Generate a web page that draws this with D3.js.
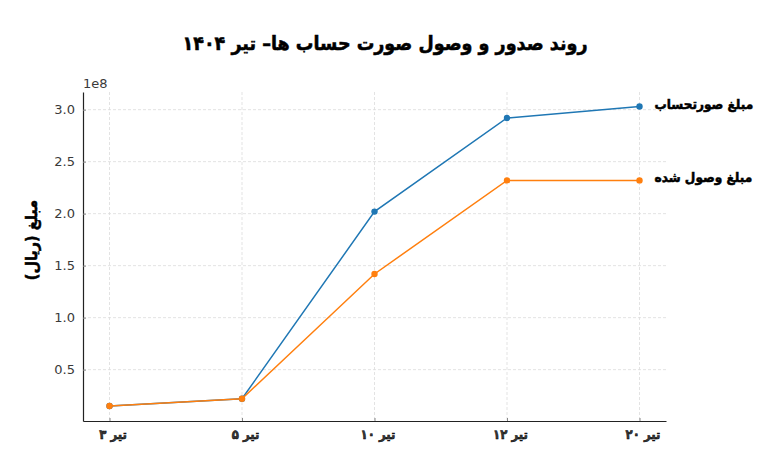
<!DOCTYPE html>
<html>
<head>
<meta charset="utf-8">
<script src="https://cdn.jsdelivr.net/npm/d3@7"></script>
<style>
  body { margin: 0; background: #fff; }
  svg text { font-family: "DejaVu Sans", sans-serif; }
  .grid line { stroke: #dcdcdc; stroke-dasharray: 3,2; stroke-width: 0.8; }
  .tick text { fill: #3a3a3a; font-size: 13px; }
  .fa { font-family: "DejaVu Sans Condensed", "DejaVu Sans", sans-serif; font-weight: bold; fill: #000; stroke: #000; stroke-width: 0.5; }
</style>
</head>
<body>
<svg id="chart" width="774" height="465"></svg>
<script>
// chart data
var categories = ["تیر ۳", "تیر ۵", "تیر ۱۰", "تیر ۱۲", "تیر ۲۰"];
var invoiced = [15000000, 22000000, 202000000, 292000000, 303000000];
var received = [15000000, 22000000, 142000000, 232000000, 232000000];
var yTicks = [0.5e8, 1.0e8, 1.5e8, 2.0e8, 2.5e8, 3.0e8];
var seriesNames = ["مبلغ صورتحساب", "مبلغ وصول شده"];
var titleText = "روند صدور و وصول صورت حساب ها– تیر ۱۴۰۴";
var yLabel = "مبلغ (ریال)";

var svg = d3.select("#chart");
var plotLeft = 83, plotRight = 666, plotTop = 92, plotBottom = 421;

var x = d3.scaleLinear().domain([-0.2, categories.length - 1 + 0.2]).range([plotLeft, plotRight]);
var y = d3.scaleLinear().domain([0.6e6, 3.17e8]).range([plotBottom, plotTop]);

// grid
var grid = svg.append("g").attr("class", "grid");
grid.selectAll(".gx").data(categories).enter().append("line")
	.attr("x1", function(d, i) { return x(i); })
	.attr("x2", function(d, i) { return x(i); })
	.attr("y1", plotTop).attr("y2", plotBottom);
grid.selectAll(".gy").data(yTicks).enter().append("line")
	.attr("x1", plotLeft).attr("x2", plotRight)
	.attr("y1", function(d) { return y(d); })
	.attr("y2", function(d) { return y(d); });

// y axis
var yAxis = svg.append("g")
	.attr("transform", "translate(" + plotLeft + ",0)")
	.call(d3.axisLeft(y).tickValues(yTicks).tickSizeInner(-3).tickSizeOuter(0).tickPadding(8)
		.tickFormat(function(d) { return (d / 1e8).toFixed(1); }));
yAxis.select(".domain").attr("stroke", "#222").attr("stroke-width", 1.2);
yAxis.selectAll(".tick line").attr("stroke", "#888");

svg.append("text").attr("x", plotLeft).attr("y", 88)
	.attr("fill", "#3a3a3a").attr("font-size", 13).text("1e8");

// x axis
var xAxis = svg.append("g")
	.attr("transform", "translate(0," + plotBottom + ")")
	.call(d3.axisBottom(x).tickValues(d3.range(categories.length)).tickSizeInner(-3).tickSizeOuter(0).tickPadding(9)
		.tickFormat(function(d) { return categories[d]; }));
xAxis.select(".domain").attr("stroke", "#222").attr("stroke-width", 1.2);
xAxis.selectAll(".tick line").attr("stroke", "#888");
xAxis.selectAll(".tick text").attr("class", "fa").attr("font-size", 14).attr("dx", 3);

// lines
var series = [
	{ name: seriesNames[0], values: invoiced, color: "#1f77b4" },
	{ name: seriesNames[1], values: received, color: "#ff7f0e" }
];
var line = d3.line()
	.x(function(d, i) { return x(i); })
	.y(function(d) { return y(d); });

series.forEach(function(s) {
	svg.append("path")
		.datum(s.values)
		.attr("fill", "none")
		.attr("stroke", s.color)
		.attr("stroke-width", 1.5)
		.attr("d", line);
	svg.selectAll(null).data(s.values).enter().append("circle")
		.attr("cx", function(d, i) { return x(i); })
		.attr("cy", function(d) { return y(d); })
		.attr("r", 3.2)
		.attr("fill", s.color);
	var last = s.values.length - 1;
	svg.append("text")
		.attr("class", "fa")
		.attr("x", x(last) + 15)
		.attr("y", y(s.values[last]))
		.attr("dy", "0.15em")
		.attr("font-size", 13.5)
		.text(s.name);
});

// title
svg.append("text").attr("class", "fa")
	.attr("x", 385).attr("y", 50)
	.attr("text-anchor", "middle")
	.attr("font-size", 19.5)
	.text(titleText);

// y label
svg.append("text").attr("class", "fa")
	.attr("transform", "translate(37,240) rotate(-90)")
	.attr("text-anchor", "middle")
	.attr("font-size", 16)
	.text(yLabel);
</script>
</body>
</html>
